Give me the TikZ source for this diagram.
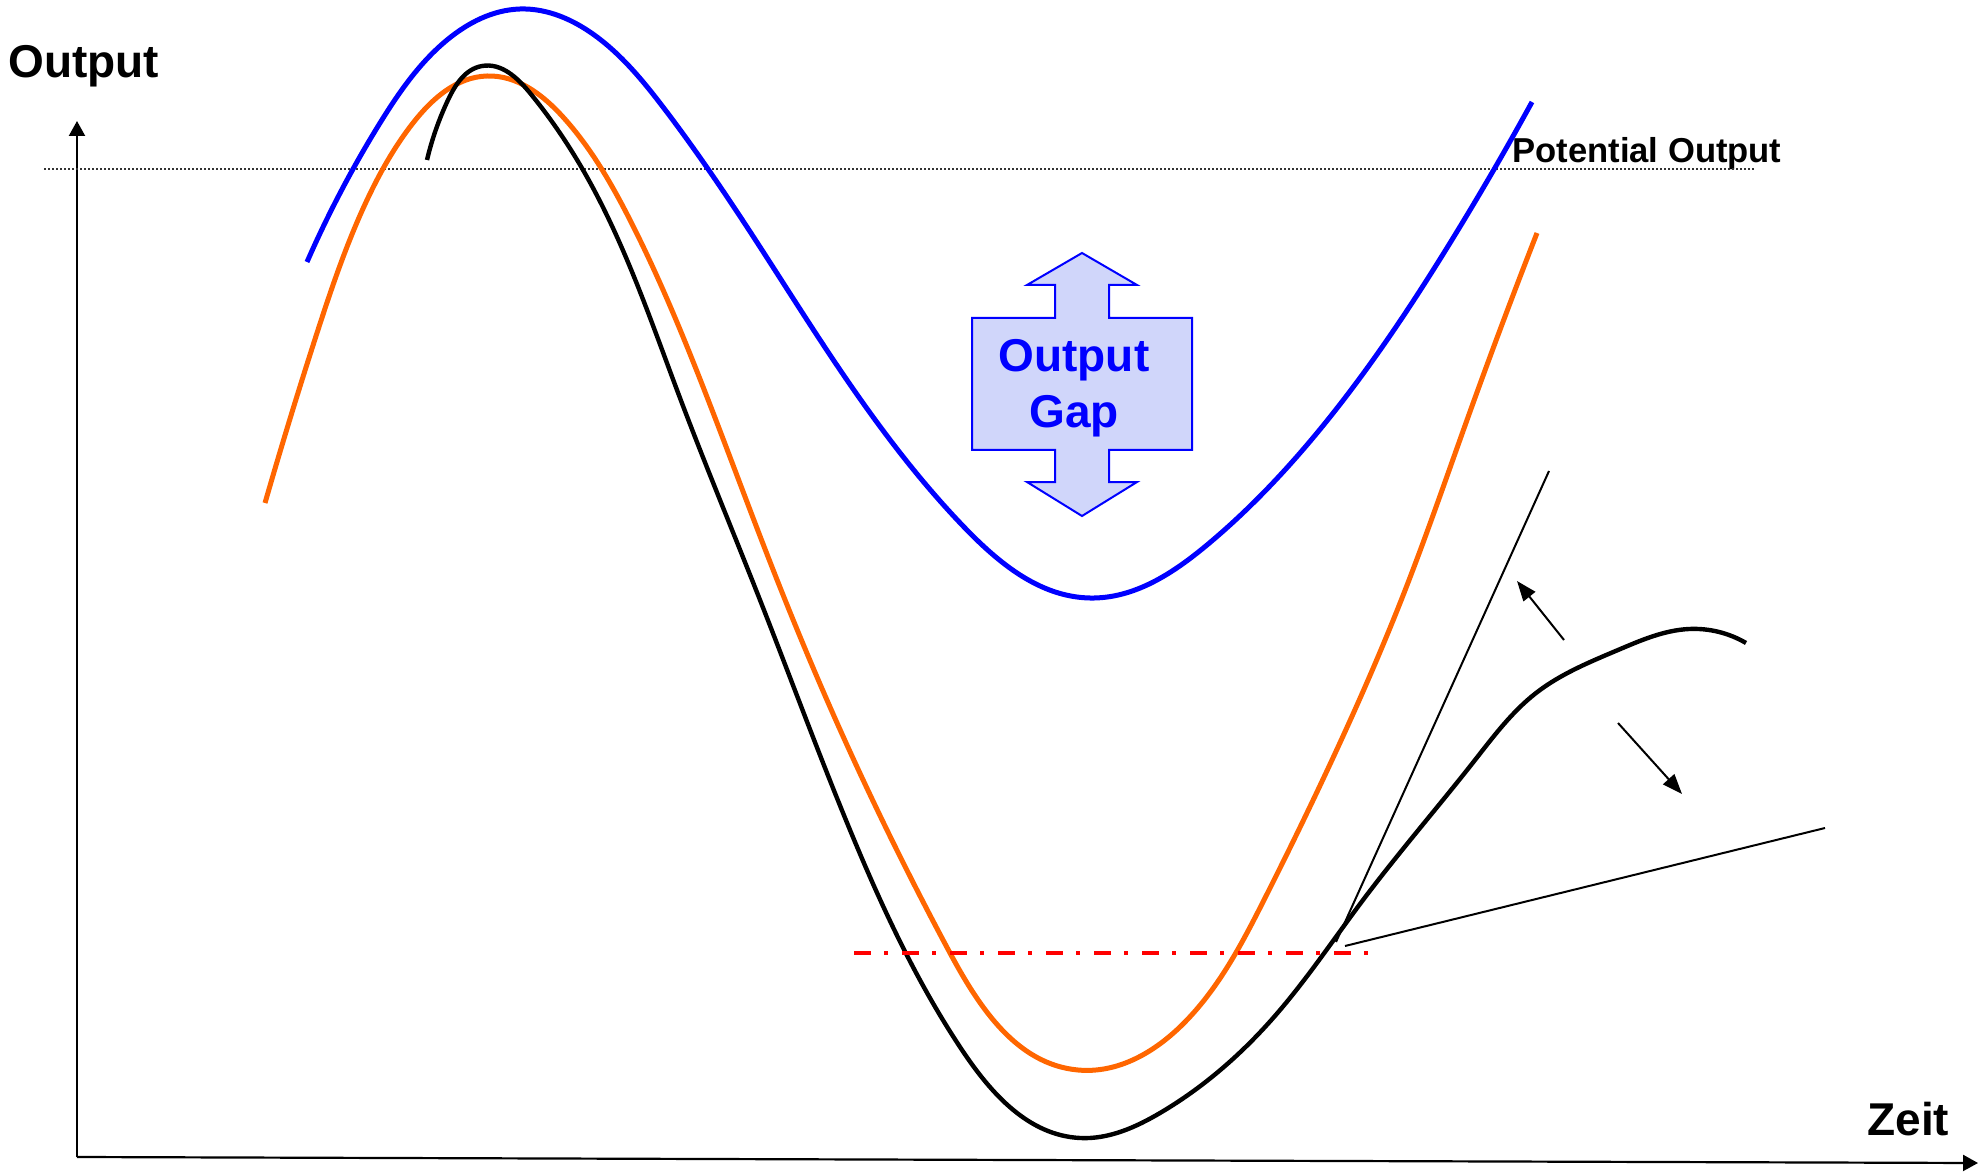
\documentclass[tikz,border=0pt]{standalone}
\usepackage{fontspec}
\setmainfont{Liberation Sans}
\usetikzlibrary{arrows.meta,hobby}
\definecolor{curveblue}{RGB}{0,0,255}
\definecolor{curveorange}{RGB}{255,102,0}
\definecolor{gapfill}{RGB}{208,214,250}
\begin{document}
\begin{tikzpicture}[x=0.5pt,y=-0.5pt,
  curve/.style={line width=2.5pt, line cap=butt, use Hobby shortcut},
  axisline/.style={line width=1.1pt, -{Triangle[length=7.5pt,width=8pt]}},
  thinline/.style={line width=1pt},
  smallarrow/.style={line width=1pt, -{Triangle[length=10pt,width=7.5pt]}},
  biglbl/.style={font=\bfseries\fontsize{23}{27}\selectfont, inner sep=0pt},
  potlbl/.style={font=\bfseries\fontsize{17.3}{20}\selectfont, inner sep=0pt},
]
\useasboundingbox (0,0) rectangle (1986,1176);

% axes
\coordinate (origin) at (77,1157);
\coordinate (ytip) at (77,121);
\coordinate (xtip) at (1978,1163);
\draw[axisline] (origin) -- (ytip);
\draw[axisline] (origin) -- (xtip);

% labels
\node[biglbl, anchor=base west] (ylabel) at (8,78) {Output};
\node[biglbl, anchor=base west] (xlabel) at (1867,1135) {Zeit};
\node[potlbl, anchor=base west] (potlabel) at (1512,163) {Potential Output};

% potential output dotted line
\coordinate (potA) at (44,169);
\coordinate (potB) at (1754,169);
\draw[line width=0.8pt, dash pattern=on 1pt off 1pt, black!80] (potA) -- (potB);

% blue curve
\draw[curve, curveblue] (307,262) .. (380,123) .. (447,40) .. (520,9) .. (597,37)
 .. (663,107) .. (747,227) .. (849,383) .. (964,527) .. (1090,598) .. (1207,545)
 .. (1317,433) .. (1450,243) .. (1532,102);

% orange curve
\draw[curve, curveorange] (265,503) .. (317,333) .. (367,200) .. (413,123)
 .. (487,76) .. (563,117) .. (630,220) .. (707,397) .. (772,567) .. (830,707)
 .. (950,953) .. (1078,1070) .. (1184,1023) .. (1264,900) .. (1332,760)
 .. (1404,593) .. (1467,420) .. (1537,233);

% black curve
\draw[curve, black, line width=2.2pt] (427,160) .. (448,100) .. (482,66)
 .. (530,93) .. (587,177) .. (680,398) .. (760,600) .. (850,830)
 .. (962,1050) .. (1080,1138) .. (1160,1113) .. (1274,1017) .. (1363,900)
 .. (1475,760) .. (1536,693) .. (1618,650) .. (1689,629) .. (1746,643);

% red dash-dot line
\coordinate (redA) at (854,953);
\coordinate (redB) at (1373,953);
\draw[red, line width=2.2pt, dash pattern=on 8.5pt off 6.5pt on 2pt off 7pt] (redA) -- (redB);

% tangent lines
\coordinate (tanO1) at (1336,942);
\coordinate (tanE1) at (1549,471);
\coordinate (tanO2) at (1345,946);
\coordinate (tanE2) at (1825,828);
\draw[thinline] (tanO1) -- (tanE1);
\draw[thinline] (tanO2) -- (tanE2);

% small arrows
\coordinate (upS) at (1564,640);
\coordinate (upT) at (1517,581);
\coordinate (dnS) at (1618,723);
\coordinate (dnT) at (1682,794);
\draw[smallarrow] (upS) -- (upT);
\draw[smallarrow] (dnS) -- (dnT);

% output gap double arrow
\draw[curveblue, line width=1pt, fill=gapfill]
 (1082,253) -- (1137,285) -- (1109,285) -- (1109,318) -- (1192,318)
 -- (1192,450) -- (1109,450) -- (1109,482) -- (1137,482) -- (1082,516)
 -- (1027,482) -- (1055,482) -- (1055,450) -- (972,450) -- (972,318)
 -- (1055,318) -- (1055,285) -- (1027,285) -- cycle;
\node[biglbl, text=curveblue, anchor=base] (gap1) at (1074,372) {Output};
\node[biglbl, text=curveblue, anchor=base] (gap2) at (1074,428) {Gap};
\end{tikzpicture}
\end{document}
